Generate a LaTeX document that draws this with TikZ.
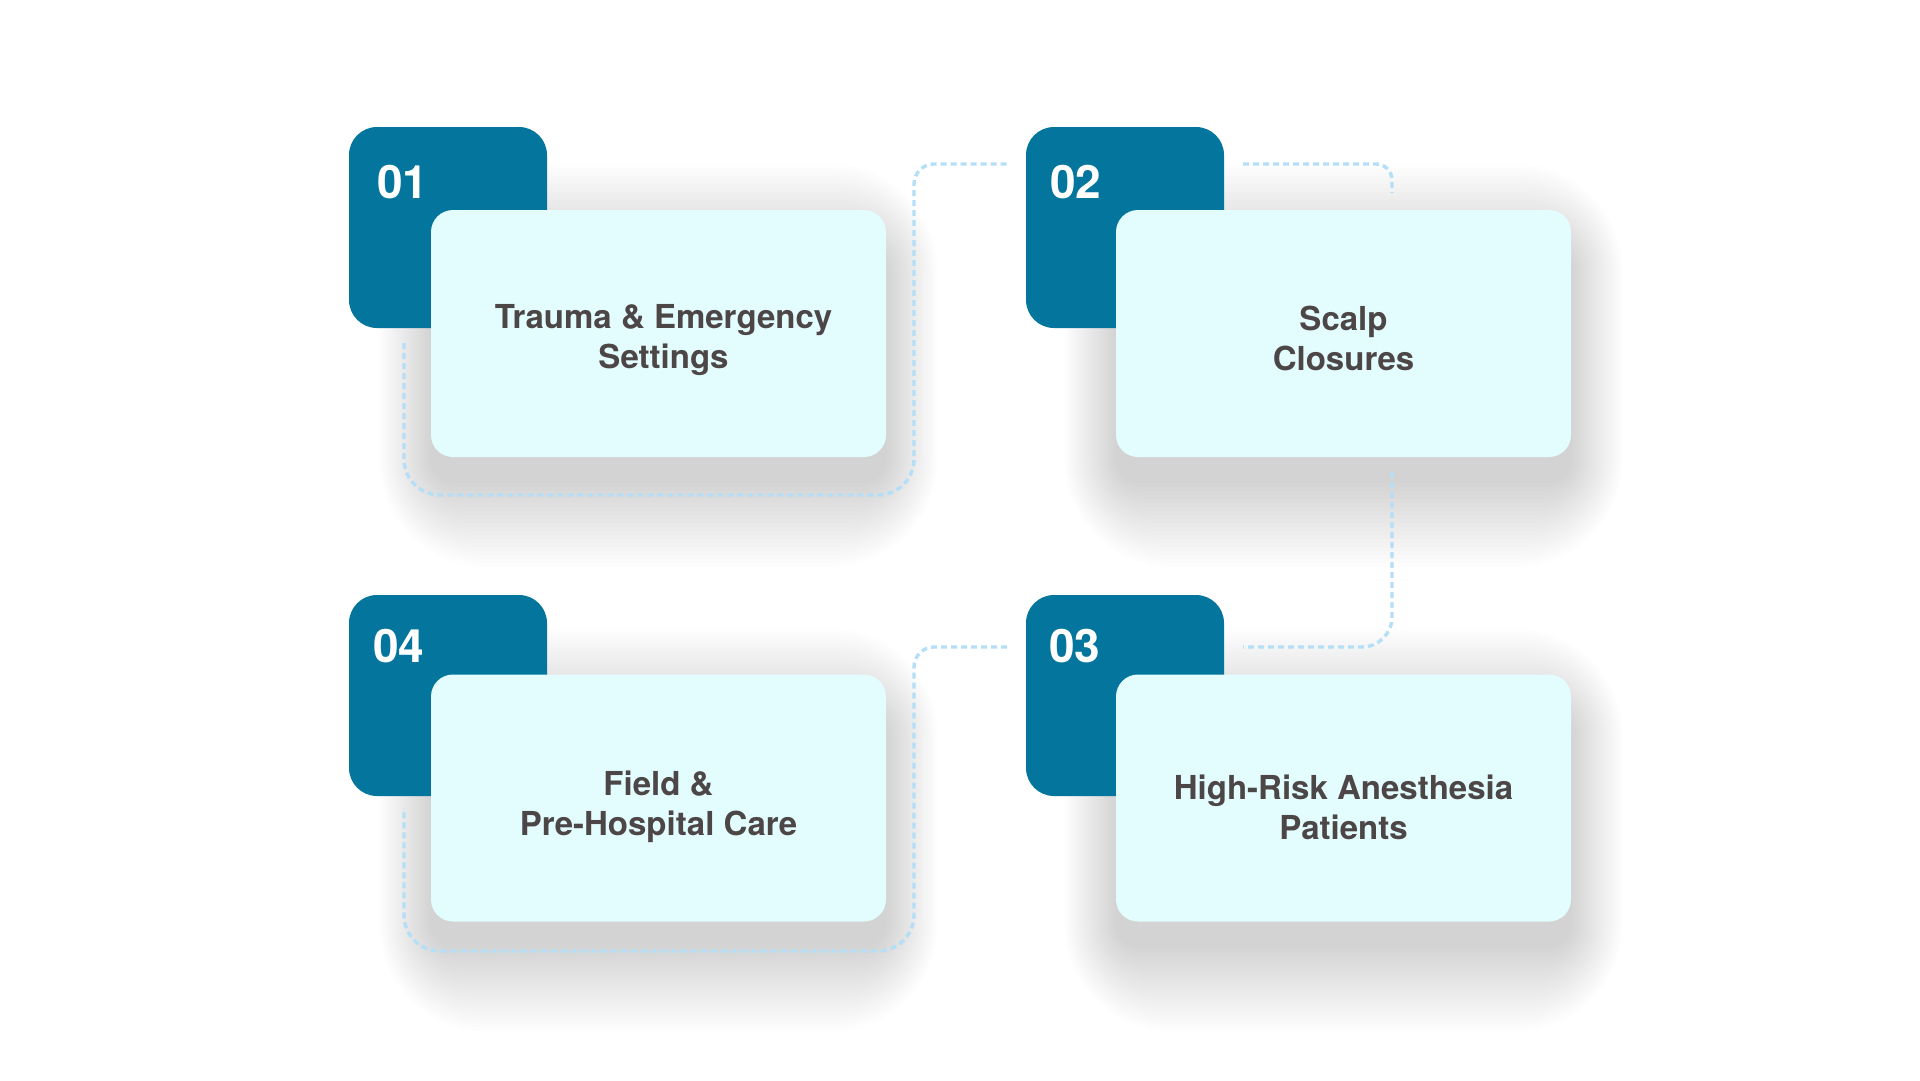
\documentclass[tikz,border=0pt]{standalone}
\usepackage{fontspec}
\setmainfont{TeX Gyre Heros}
\usetikzlibrary{calc}
\definecolor{teal01}{HTML}{04759C}
\definecolor{cardfill}{HTML}{E3FCFE}
\definecolor{txtgray}{HTML}{4D4647}
\definecolor{dashblue}{HTML}{B5DEF7}
\begin{document}
\begin{tikzpicture}[x=1pt,y=-1pt,
    numbox/.style={fill=teal01, rounded corners=28pt, minimum width=198pt, minimum height=201pt, inner sep=0pt},
    numtxt/.style={text=white, font=\fontsize{46}{46}\selectfont\bfseries, inner sep=0pt, anchor=west},
    card/.style={fill=cardfill, rounded corners=22pt, minimum width=455pt, minimum height=247pt, inner sep=0pt},
    cardtxt/.style={align=center, text=txtgray, inner sep=0pt, font=\fontsize{33}{40}\selectfont\bfseries},
    dashline/.style={draw=dashblue, line width=3.4pt, dash pattern=on 6pt off 4pt}]

    \fill[white] (0,0) rectangle (1920,1080);

    % soft shadows under the cards
    \foreach \cx/\cy in {658.5/333.5, 1343.5/333.5, 1343.5/798, 658.5/798} {
        \foreach \e in {2,6,...,86} {
            \fill[black, opacity=0.008, rounded corners=22pt+\e pt]
                (\cx-227.5-0.6*\e, \cy-123.5+40-\e) rectangle (\cx+227.5+0.6*\e, \cy+123.5+24+\e);
        }
    }

    % dark number boxes
    \node[numbox] (num1) at (448,227.5) {};
    \node[numbox] (num2) at (1125,227.5) {};
    \node[numbox] (num3) at (1125,695.5) {};
    \node[numbox] (num4) at (448,695.5) {};

    \node[numtxt] (lab1) at (377,182.5) {01};
    \node[numtxt] (lab2) at (1050,182.5) {02};
    \node[numtxt] (lab3) at (1049,646.5) {03};
    \node[numtxt] (lab4) at (373,646.5) {04};

    % dashed connectors
    \coordinate (a1) at (404,343);
    \coordinate (a2) at (1007,164);
    \coordinate (b1) at (1243,164);
    \coordinate (b2) at (1392,193);
    \coordinate (c1) at (1392,472);
    \coordinate (c2) at (1243,647);
    \coordinate (d1) at (1007,647);
    \coordinate (d2) at (404,808);

    \draw[dashline, rounded corners=36pt] (a1) -- (404,495) -- (914,495) [rounded corners=20pt] -- (914,164) -- (a2);
    \draw[dashline, rounded corners=16pt] (b1) -| (b2);
    \draw[dashline, rounded corners=30pt] (c1) |- (c2);
    \draw[dashline, rounded corners=20pt] (d1) -- (914,647) [rounded corners=36pt] -- (914,951) -- (404,951) -- (d2);

    % cards
    \node[card] (card1) at (658.5,333.5) {};
    \node[card] (card2) at (1343.5,333.5) {};
    \node[card] (card3) at (1343.5,798) {};
    \node[card] (card4) at (658.5,798) {};

    \node[cardtxt] (txt1) at ($(card1.center)+(5,7)$) {Trauma \& Emergency\\Settings};
    \node[cardtxt] (txt2) at ($(card2.center)+(0,5)$) {Scalp\\Closures};
    \node[cardtxt] (txt3) at ($(card3.center)+(0,9)$) {High-Risk Anesthesia\\Patients};
    \node[cardtxt] (txt4) at ($(card4.center)+(0,9)$) {Field \&\\Pre-Hospital Care};

\end{tikzpicture}
\end{document}
